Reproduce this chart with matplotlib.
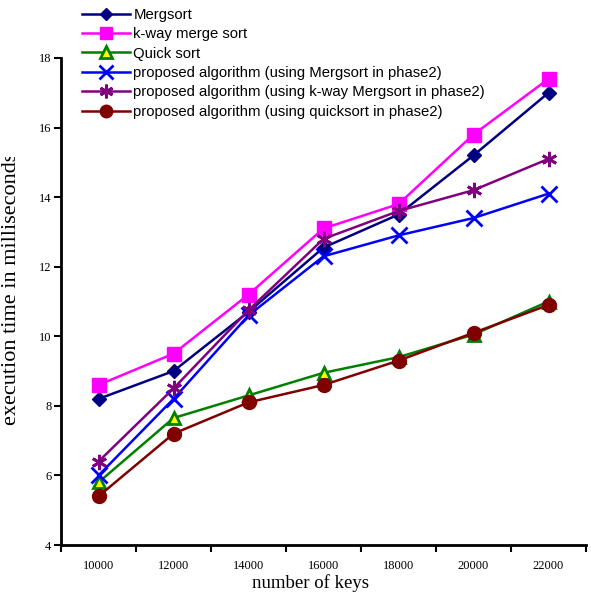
import matplotlib
matplotlib.use('Agg')
import matplotlib.pyplot as plt
from matplotlib.transforms import Bbox, TransformedBbox
import numpy as np

keys = ['10000', '12000', '14000', '16000', '18000', '20000', '22000']
mergsort = [8.2, 9.0, 10.7, 12.55, 13.5, 15.2, 17.0]
kway_merge = [8.6, 9.5, 11.2, 13.1, 13.8, 15.8, 17.4]
quick_sort = [5.8, 7.65, 8.3, 8.95, 9.4, 10.05, 11.0]
prop_merg = [6.0, 8.2, 10.6, 12.3, 12.9, 13.4, 14.1]
prop_kway = [6.4, 8.5, 10.75, 12.8, 13.6, 14.2, 15.1]
prop_quick = [5.4, 7.2, 8.1, 8.6, 9.3, 10.1, 10.9]

serif = 'Liberation Serif'
sans = 'Liberation Sans'

fig = plt.figure(figsize=(5.91, 5.96), dpi=100)
ax = fig.add_axes([61 / 591, 1 - 545 / 596, 525 / 591, 487 / 596])

x = np.arange(len(keys))
lw = 1.8
ax.plot(x, mergsort, color='#000080', lw=lw, marker='D', ms=7,
        label='Mergsort')
ax.plot(x, kway_merge, color='#FF00FF', lw=lw, marker='s', ms=10,
        label='k-way merge sort')
ax.plot(x, quick_sort, color='#008000', lw=lw, marker='^', ms=9,
        mfc='yellow', mec='#008000', mew=2, label='Quick sort')
ax.plot(x, prop_merg, color='#0000FF', lw=lw, marker='x', ms=11, mew=2,
        label='proposed algorithm (using Mergsort in phase2)')
ax.plot(x, prop_kway, color='#800080', lw=lw, marker=(6, 2, 0), ms=11, mew=2,
        label='proposed algorithm (using k-way Mergsort in phase2)')
ax.plot(x, prop_quick, color='#800000', lw=lw, marker='o', ms=10,
        label='proposed algorithm (using quicksort in phase2)')

ax.set_xlim(-0.5, len(keys) - 0.5)
ax.set_ylim(4, 18)
ax.set_yticks(range(4, 19, 2))
ax.set_xticks(x)
ax.set_xticklabels(keys, fontfamily=serif, fontsize=9)
ax.set_xticks(np.arange(-0.5, len(keys), 1), minor=True)
ax.tick_params(axis='x', which='major', length=0, pad=11)
ax.tick_params(axis='x', which='minor', length=5, width=1.5, direction='out')
ax.tick_params(axis='y', length=5, width=1.5, direction='out', pad=2)
for lab in ax.get_yticklabels():
    lab.set_fontfamily(serif)
    lab.set_fontsize(9)

for s in ['top', 'right']:
    ax.spines[s].set_visible(False)
for s in ['left', 'bottom']:
    ax.spines[s].set_linewidth(2)

fig.text(310 / 591, 1 - 583 / 596, 'number of keys', ha='center', va='center',
         fontfamily=serif, fontsize=13.5)

# y label, cut at the top like in the original
ylab = fig.text(12 / 591, 1 - 289 / 596, 'execution time in milliseconds',
                rotation=90, ha='center', va='center',
                fontfamily=serif, fontsize=16)
ylab.set_clip_on(True)
ylab.set_clip_box(TransformedBbox(Bbox([[0, 0], [1, 1 - 157 / 596]]),
                                  fig.transFigure))

fig.legend(loc='upper left', bbox_to_anchor=(82 / 591, 1 - 8 / 596),
           frameon=False, prop={'family': sans, 'size': 10.7},
           handlelength=3.2, handletextpad=0.25, labelspacing=0.36,
           borderpad=0, borderaxespad=0, markerscale=0.9)

fig.savefig('out.png', dpi=100)
